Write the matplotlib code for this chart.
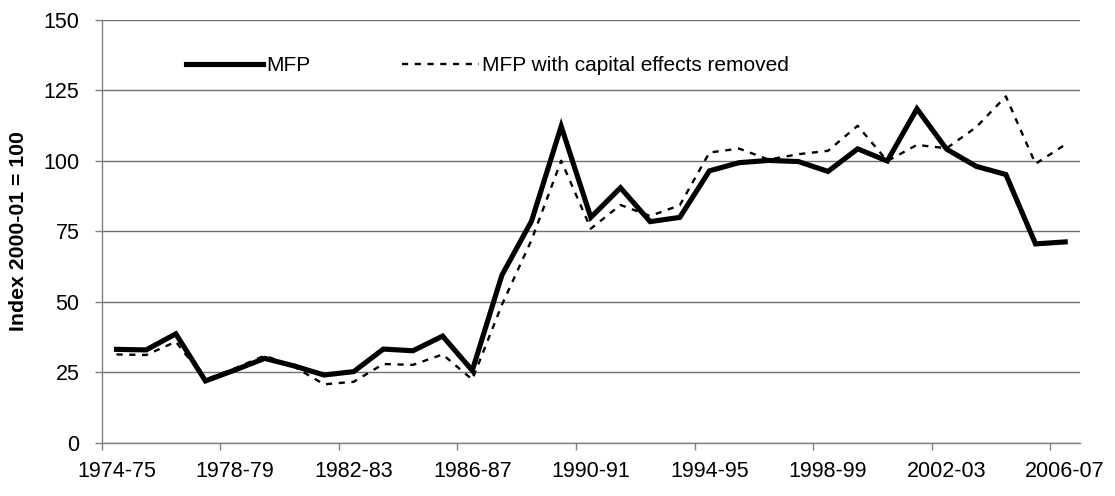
import matplotlib
matplotlib.use("Agg")
import matplotlib.pyplot as plt

plt.rcParams['font.family'] = ['Liberation Sans', 'DejaVu Sans']

years = ['1974-75', '1975-76', '1976-77', '1977-78', '1978-79', '1979-80',
         '1980-81', '1981-82', '1982-83', '1983-84', '1984-85', '1985-86',
         '1986-87', '1987-88', '1988-89', '1989-90', '1990-91', '1991-92',
         '1992-93', '1993-94', '1994-95', '1995-96', '1996-97', '1997-98',
         '1998-99', '1999-00', '2000-01', '2001-02', '2002-03', '2003-04',
         '2004-05', '2005-06', '2006-07']

mfp = [33.2, 33.0, 38.7, 22.0, 25.9, 30.0, 27.3, 24.1, 25.3, 33.3, 32.7,
       37.9, 25.7, 59.5, 78.7, 112.3, 80.0, 90.5, 78.5, 80.0, 96.5, 99.4,
       100.2, 99.8, 96.3, 104.3, 100.0, 118.5, 104.2, 98.1, 95.2, 70.6, 71.3]

mfp_no_capital = [31.4, 31.2, 35.9, 22.5, 26.5, 31.0, 27.0, 20.8, 21.7, 28.0,
                  27.7, 31.4, 22.5, 49.0, 72.0, 100.1, 76.0, 84.4, 80.5, 84.3,
                  103.0, 104.4, 100.5, 102.4, 103.6, 112.5, 100.0, 105.7,
                  104.5, 112.0, 122.9, 99.0, 105.8]

y_ticks = [0, 25, 50, 75, 100, 125, 150]

fig = plt.figure(figsize=(11.15, 4.96), dpi=100)
ax = fig.add_axes([0.0912, 0.1069, 0.8774, 0.8528])

x = list(range(len(years)))
ax.plot(x, mfp, color='black', linewidth=3.7, solid_joinstyle='miter',
        label='MFP', zorder=3)
ax.plot(x, mfp_no_capital, color='black', linewidth=1.7,
        linestyle=(0, (2.6, 2.8)), label='MFP with capital effects removed',
        zorder=2)

ax.set_xlim(-0.5, len(years) - 0.5)
ax.set_ylim(0, 150)

# labels sit on the categories, tick marks between them
ax.set_xticks(x[::4])
ax.set_xticklabels(years[::4], fontsize=15.5)
ax.set_xticks([i - 0.5 for i in x[::4]], minor=True)
ax.tick_params(axis='x', which='major', length=0, pad=13)
ax.tick_params(axis='x', which='minor', length=5, width=1, color='#808080',
               direction='out')

ax.set_yticks(y_ticks)
ax.set_yticklabels([str(v) for v in y_ticks], fontsize=15.5)
ax.tick_params(axis='y', length=5, width=1, color='#808080', pad=11)

ax.grid(axis='y', color='#707070', linewidth=1)
ax.set_axisbelow(True)
for side in ('top', 'right'):
    ax.spines[side].set_visible(False)
for side in ('left', 'bottom'):
    ax.spines[side].set_color('#808080')
    ax.spines[side].set_linewidth(1)

ax.set_ylabel('Index 2000-01 = 100', fontsize=15.3, fontweight='bold')
ax.yaxis.set_label_coords(-0.0753, 0.5)

ax.legend(loc='center left', bbox_to_anchor=(0.086, 0.892), ncol=2,
          frameon=False, fontsize=15, handlelength=3.7, handletextpad=0.15,
          columnspacing=4.4, borderpad=0, borderaxespad=0)

fig.savefig('out.png', dpi=100)
